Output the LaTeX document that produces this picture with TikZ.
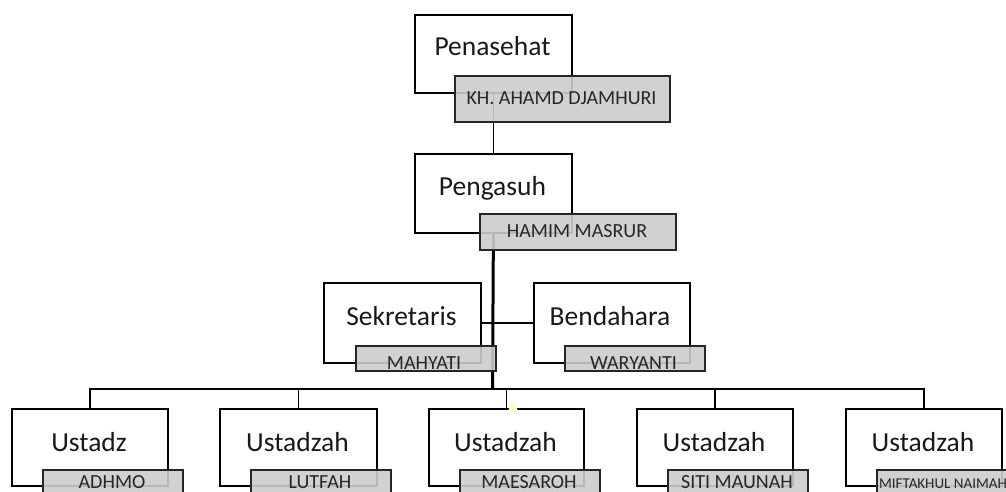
\documentclass[tikz,border=0pt]{standalone}
\usepackage{fontspec}
\setmainfont{Carlito}
\begin{document}
\begin{tikzpicture}[x=1pt,y=-1pt,
  mainbox/.style={draw=black,line width=1.8pt,fill=white,rectangle,inner sep=0pt,anchor=north west},
  namebox/.style={draw=black!85,line width=1.8pt,fill=black!20,fill opacity=0.9,rectangle,inner sep=0pt,anchor=north west},
  titletext/.style={font=\fontsize{27.5}{30}\selectfont,anchor=base,inner sep=0pt,text=black!90},
  nametext/.style={font=\fontsize{20}{22}\selectfont,anchor=base,inner sep=0pt,text depth=0pt,text=black!85},
  conn/.style={draw=black,line width=1.8pt},
  trunk/.style={draw=black,line width=3pt}]
\useasboundingbox (0,0) rectangle (1006,492);
\clip (0,0) rectangle (1006,492);
% main boxes
\node[mainbox,minimum width=157pt,minimum height=78pt] (pen) at (414,14) {};
\node[mainbox,minimum width=157pt,minimum height=79pt] (peng) at (414,153) {};
\node[mainbox,minimum width=157pt,minimum height=80pt] (sek) at (323,282) {};
\node[mainbox,minimum width=156pt,minimum height=80pt] (ben) at (533,282) {};
\node[mainbox,minimum width=156pt,minimum height=77pt] (u1) at (11,408) {};
\node[mainbox,minimum width=157pt,minimum height=77pt] (u2) at (219,408) {};
\node[mainbox,minimum width=155pt,minimum height=77pt] (u3) at (428,408) {};
\node[mainbox,minimum width=156pt,minimum height=77pt] (u4) at (636,408) {};
\node[mainbox,minimum width=156pt,minimum height=77pt] (u5) at (845,408) {};
% connectors
\draw[conn] (pen.south) -- (peng.north);
\coordinate (busC) at (492.5,389);
\draw[trunk] (peng.south) -- (busC);
\draw[conn] (sek.east) -- (ben.west);
\foreach \u in {u1,u2,u3,u4,u5}{\draw[conn] (busC) -| (\u.north);}
% titles
\node[titletext] (penT) at (492.5,56) {Penasehat};
\node[titletext] (pengT) at (492.5,195) {Pengasuh};
\node[titletext] (sekT) at (401.5,325) {Sekretaris};
\node[titletext] (benT) at (610,325) {Bendahara};
\node[titletext] (u1T) at (89,451) {Ustadz};
\node[titletext] (u2T) at (297.5,451) {Ustadzah};
\node[titletext] (u3T) at (505.5,451) {Ustadzah};
\node[titletext] (u4T) at (714,451) {Ustadzah};
\node[titletext] (u5T) at (923,451) {Ustadzah};
% name boxes
\node[namebox,minimum width=215pt,minimum height=46pt] (penN) at (454,75) {};
\node[namebox,minimum width=196pt,minimum height=36pt] (pengN) at (479,213) {};
\node[namebox,minimum width=140pt,minimum height=25pt] (sekN) at (355,345) {};
\node[namebox,minimum width=140pt,minimum height=25pt] (benN) at (564,345) {};
\node[namebox,minimum width=140pt,minimum height=30pt] (u1N) at (42,469) {};
\node[namebox,minimum width=140pt,minimum height=30pt] (u2N) at (250,469) {};
\node[namebox,minimum width=140pt,minimum height=30pt] (u3N) at (459,469) {};
\node[namebox,minimum width=140pt,minimum height=30pt] (u4N) at (667,469) {};
\node[namebox,minimum width=140pt,minimum height=30pt] (u5N) at (876,469) {};
% names
\node[nametext] (penNT) at (561.5,105) {KH. AHAMD DJAMHURI};
\node[nametext] (pengNT) at (577,237) {HAMIM MASRUR};
\node[nametext] (sekNT) at (424,369) {MAHYATI};
\node[nametext] (benNT) at (633.5,369) {WARYANTI};
\node[nametext] (u1NT) at (112,488) {ADHMO};
\node[nametext] (u2NT) at (320,488) {LUTFAH};
\node[nametext] (u3NT) at (529,488) {MAESAROH};
\node[nametext] (u4NT) at (737,488) {SITI MAUNAH};
\node[nametext,font=\fontsize{15}{17}\selectfont] (u5NT) at (943,488) {MIFTAKHUL NAIMAH};
% faint yellow mark
\fill[yellow!20] (513,399) -- (508,411) -- (518,411) -- cycle;
\end{tikzpicture}
\end{document}
